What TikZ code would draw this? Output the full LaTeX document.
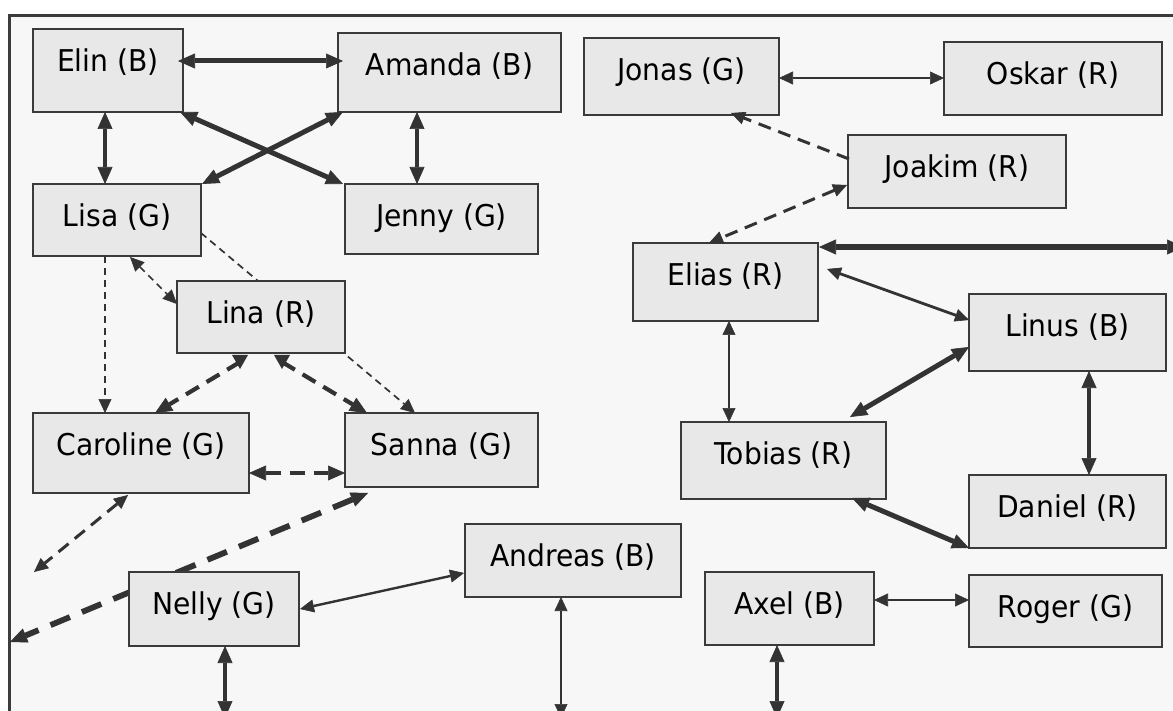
\documentclass[tikz,border=0pt]{standalone}
\usepackage{fontspec}
\setmainfont{DejaVu Sans}[FakeStretch=0.94]
\usetikzlibrary{arrows.meta,calc}
\pgfdeclarelayer{under}
\pgfsetlayers{under,main}
\definecolor{ln}{HTML}{333333}
\definecolor{boxc}{HTML}{3A3A3A}
\definecolor{boxf}{HTML}{E8E8E8}
\definecolor{bgc}{HTML}{F7F7F7}
\definecolor{framec}{HTML}{3C3C3C}
\tikzset{
  tS/.tip={Triangle[length=14pt,width=13pt,line width=0.6pt]},
  tL/.tip={Triangle[length=17pt,width=15pt,line width=0.6pt]},
  person/.style={draw=boxc, fill=boxf, line width=1.8pt, inner sep=0pt, outer sep=0pt,
    text height=42.5pt, anchor=north west, font=\fontsize{30}{36}\selectfont},
  e/.style={draw=ln, line join=miter},
  w1/.style={e, line width=2.4pt},
  w2/.style={e, line width=2.8pt},
  w4/.style={e, line width=4.2pt},
  w5/.style={e, line width=5pt},
  w6/.style={e, line width=6pt},
  dthin/.style={e, line width=1.7pt, dash pattern=on 7pt off 5pt},
  dmed/.style={e, line width=3pt, dash pattern=on 13pt off 8pt},
  dthick/.style={e, line width=4.2pt, dash pattern=on 15pt off 9pt},
  dvthick/.style={e, line width=5.8pt, dash pattern=on 21pt off 13pt},
}
\begin{document}
\begin{tikzpicture}[x=1pt,y=-1pt]
\useasboundingbox (0,0) rectangle (1173,711);
\begin{pgfonlayer}{under}
\fill[white] (0,0) rectangle (1173,711);
\draw[line width=2.6pt, draw=framec, fill=bgc] (9.5,15.3) rectangle (1200,740);
\end{pgfonlayer}

% nodes
\node[person, minimum width=150pt, text depth=40.5pt] (Elin) at (33,29) {Elin (B)};
\node[person, minimum width=223pt, text depth=36.5pt] (Amanda) at (338,33) {Amanda (B)};
\node[person, minimum width=168pt, text depth=29.5pt] (Lisa) at (33,184) {Lisa (G)};
\node[person, minimum width=193pt, text depth=27.5pt] (Jenny) at (345,184) {Jenny (G)};
\node[person, minimum width=168pt, text depth=29.5pt] (Lina) at (177,281) {Lina (R)};
\node[person, minimum width=216pt, text depth=37.5pt] (Caroline) at (33,413) {Caroline (G)};
\node[person, minimum width=193pt, text depth=31.5pt] (Sanna) at (345,413) {Sanna (G)};
\node[person, minimum width=170pt, text depth=31.5pt] (Nelly) at (129,572) {Nelly (G)};
\node[person, minimum width=216pt, text depth=30.5pt] (Andreas) at (465,524) {Andreas (B)};
\node[person, minimum width=195pt, text depth=34.5pt] (Jonas) at (584,38) {Jonas (G)};
\node[person, minimum width=218pt, text depth=30.5pt] (Oskar) at (944,42) {Oskar (R)};
\node[person, minimum width=218pt, text depth=30.5pt] (Joakim) at (848,135) {Joakim (R)};
\node[person, minimum width=185pt, text depth=35.5pt] (Elias) at (633,243) {Elias (R)};
\node[person, minimum width=197pt, text depth=34.5pt] (Linus) at (969,294) {Linus (B)};
\node[person, minimum width=205pt, text depth=34.5pt] (Tobias) at (681,422) {Tobias (R)};
\node[person, minimum width=197pt, text depth=30.5pt] (Daniel) at (969,475) {Daniel (R)};
\node[person, minimum width=169pt, text depth=30.5pt] (Axel) at (705,572) {Axel (B)};
\node[person, minimum width=193pt, text depth=29.5pt] (Roger) at (969,575) {Roger (G)};

% free ends
\coordinate (cl) at (34,572);
\coordinate (sl) at (10,642);
\coordinate (er) at (1184,247);
\coordinate (nb) at (225,718);
\coordinate (ab) at (561,718);
\coordinate (xb) at (777,718);

% connectors passing behind boxes
\begin{pgfonlayer}{under}
\draw[dthin, -{tS}] ($(Lisa.north east)+(0,49)$) -- ($(Sanna.north west)+(70,0)$);
\draw[dvthick, {tL}-{tL}] ($(Sanna.south west)+(23,6)$) -- (sl);
\end{pgfonlayer}

% connectors
\draw[w5, {tL}-{tL}] ($(Elin.north east)+(-5,32)$) -- ($(Amanda.north west)+(5,28)$);
\draw[w4, {tL}-{tL}] ($(Elin.south west)+(72,0)$) -- ($(Lisa.north west)+(72,0)$);
\draw[w5, {tL}-{tL}] ($(Elin.south east)+(-3,0)$) -- ($(Jenny.north west)+(-2,0)$);
\draw[w5, {tL}-{tL}] ($(Amanda.south west)+(5,0)$) -- ($(Lisa.north east)+(1,0)$);
\draw[w4, {tL}-{tL}] ($(Amanda.south west)+(79,0)$) -- ($(Jenny.north west)+(72,0)$);

\draw[dthin, {tS}-{tS}] ($(Lisa.south west)+(97,1)$) -- ($(Lina.north west)+(0,23)$);
\draw[dthin, -{tS}] ($(Lisa.south west)+(72,0)$) -- ($(Caroline.north west)+(72,0)$);
\draw[dthick, -{tL}] ($(Lina.south west)+(63,9)$) -- ($(Caroline.north west)+(122,0)$);
\draw[dthick, -{tL}] ($(Lina.south west)+(105,9)$) -- ($(Sanna.north west)+(22,0)$);
\fill[ln] ($(Lina.south west)+(55,2)$) -- ($(Lina.south west)+(71,2)$) -- ($(Lina.south west)+(63,16)$) -- cycle;
\fill[ln] ($(Lina.south west)+(97,2)$) -- ($(Lina.south west)+(113,2)$) -- ($(Lina.south west)+(105,16)$) -- cycle;
\draw[dthick, {tL}-{tL}] ($(Caroline.north east)+(0,60)$) -- ($(Sanna.north west)+(0,60)$);
\draw[dmed, {tS}-{tS}] ($(Caroline.south west)+(95,2)$) -- (cl);

\draw[w1, {tS}-{tS}] ($(Nelly.north east)+(1,37)$) -- ($(Andreas.north west)+(-1,49)$);
\draw[w4, {tL}-{tL}] ($(Nelly.south west)+(96,0)$) -- (nb);
\draw[w1, {tS}-{tS}] ($(Andreas.south west)+(96,0)$) -- (ab);
\draw[w4, {tL}-{tL}] ($(Axel.south west)+(72,0)$) -- (xb);
\draw[w1, {tS}-{tS}] ($(Axel.north east)+(0,28)$) -- ($(Roger.north west)+(0,25)$);

\draw[w1, {tS}-{tS}] ($(Jonas.north east)+(0,40)$) -- ($(Oskar.north west)+(0,36)$);
\draw[dmed, -{tS}] ($(Joakim.north west)+(1,24)$) -- ($(Jonas.south west)+(147,-2)$);
\draw[dmed, {tS}-{tS}] ($(Joakim.north west)+(-1,50)$) -- ($(Elias.north west)+(76,0)$);
\draw[w6, {tL}-{tL}] ($(Elias.north east)+(1,4)$) -- (er);
\draw[w2, {tS}-{tS}] ($(Elias.north east)+(9,26)$) -- ($(Linus.north west)+(0,26)$);
\draw[w1, {tS}-{tS}] ($(Elias.south west)+(96,0)$) -- ($(Tobias.north west)+(48,0)$);
\draw[w5, {tL}-{tL}] ($(Linus.north west)+(0,53)$) -- ($(Tobias.north east)+(-36,-5)$);
\draw[w4, {tL}-{tL}] ($(Linus.south west)+(120,0)$) -- ($(Daniel.north west)+(120,0)$);
\draw[w5, {tL}-{tL}] ($(Tobias.south east)+(-34,-1)$) -- (Daniel.south west);
\end{tikzpicture}
\end{document}
